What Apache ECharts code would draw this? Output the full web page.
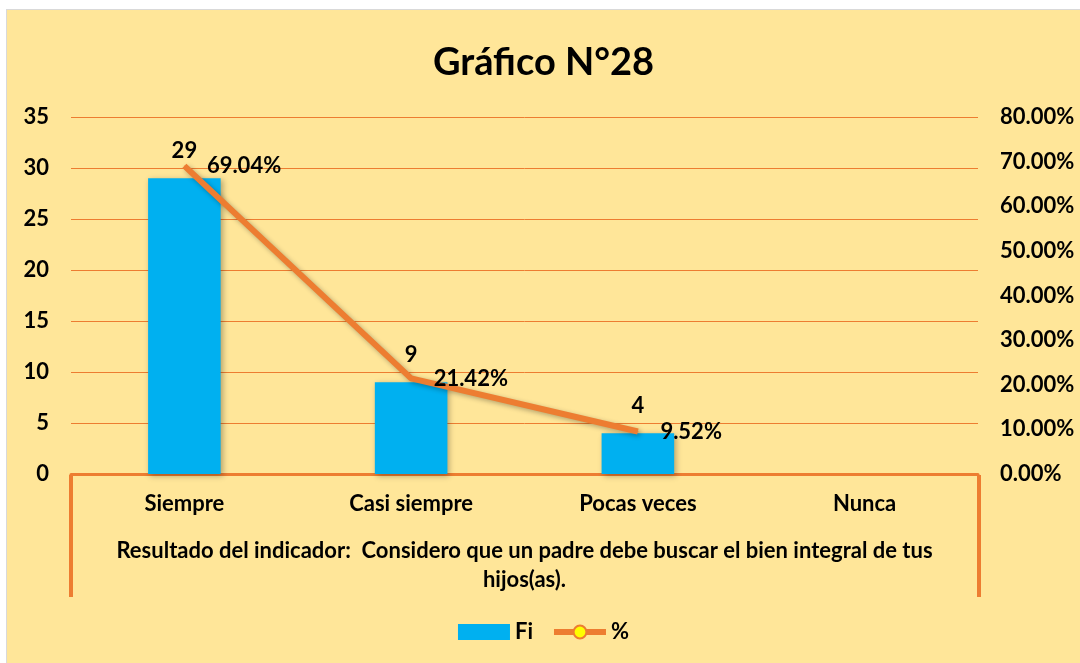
<!DOCTYPE html>
<html>
<head>
<meta charset="utf-8">
<script src="https://cdn.jsdelivr.net/npm/echarts@6/dist/echarts.min.js"></script>
<style>
  html, body { margin: 0; padding: 0; background: #ffffff; }
  #wrap { width: 1080px; height: 663px; position: relative; background: #ffffff; }
  #main { position: absolute; left: 6px; top: 9px; width: 1074px; height: 654px;
          border-left: 1px solid #d9d9d9; border-top: 1px solid #d9d9d9; box-sizing: border-box; }
</style>
</head>
<body>
<div id="wrap"><div id="main"></div></div>
<script>
// datos del gráfico
var categorias = ['Siempre', 'Casi siempre', 'Pocas veces', 'Nunca'];
var fi = [29, 9, 4, null];
var porcentaje = [0.6904, 0.2142, 0.0952, null];
var ticksFi = [0, 5, 10, 15, 20, 25, 30, 35];

var fuente = 'Lato, "Open Sans", sans-serif';
var naranja = '#ED7D31';
var tam = 22;

var myChart = echarts.init(document.getElementById('main'));

var option = {
    backgroundColor: '#FFE699',
    // título
    title: {
        text: 'Gráfico N°28',
        left: 'center',
        top: 29,
        textStyle: { fontFamily: fuente, fontSize: 38, fontWeight: 'bold', color: '#000' }
    },
    legend: {
        bottom: 15,
        left: 'center',
        itemWidth: 52,
        itemHeight: 16,
        itemGap: 18,
        textStyle: { fontFamily: fuente, fontSize: tam, fontWeight: 'bold', color: '#000' },
        data: [
            { name: 'Fi', icon: 'rect' },
            {
                name: '%',
                itemStyle: { color: '#FFFF00', borderColor: naranja, borderWidth: 2 },
                lineStyle: { color: naranja, width: 6 }
            }
        ]
    },
    grid: { left: 64, right: 102, top: 107, bottom: 189 },
    xAxis: {
        type: 'category',
        data: categorias,
        axisLine: { lineStyle: { color: naranja, width: 3 } },
        axisTick: { show: false },
        axisLabel: { fontFamily: fuente, fontSize: tam, fontWeight: 'bold', color: '#000', margin: 19 },
        name: 'Resultado del indicador:  Considero que un padre debe buscar el bien integral de tus\nhijos(as).',
        nameLocation: 'middle',
        nameGap: 62,
        nameTextStyle: { fontFamily: fuente, fontSize: tam, fontWeight: 'bold', color: '#000', lineHeight: 29 }
    },
    yAxis: [{
        type: 'value',
        min: ticksFi[0],
        max: ticksFi[ticksFi.length - 1],
        interval: 5,
        axisLine: { show: false },
        axisTick: { show: false },
        splitLine: { lineStyle: { color: naranja, width: 1 } },
        axisLabel: { fontFamily: fuente, fontSize: tam, fontWeight: 'bold', color: '#000', margin: 22 }
    }, {
        type: 'value',
        min: 0,
        max: 0.8,
        interval: 0.1,
        axisLine: { show: false },
        axisTick: { show: false },
        splitLine: { show: false },
        axisLabel: {
            fontFamily: fuente, fontSize: tam, fontWeight: 'bold', color: '#000', margin: 22,
            formatter: function (v) { return (v * 100).toFixed(2) + '%'; }
        }
    }],
    series: [{
        name: 'Fi',
        type: 'bar',
        data: fi,
        barWidth: '32%',
        itemStyle: { color: '#00B0F0', shadowColor: 'rgba(0,0,0,0.3)', shadowBlur: 6, shadowOffsetX: 2, shadowOffsetY: 2 },
        label: {
            show: true, position: 'top', distance: 16,
            fontFamily: fuente, fontSize: tam, fontWeight: 'bold', color: '#000'
        }
    }, {
        name: '%',
        type: 'line',
        yAxisIndex: 1,
        data: porcentaje,
        symbol: 'circle',
        symbolSize: 1,
        showSymbol: true,
        itemStyle: { color: naranja, borderWidth: 0 },
        lineStyle: { color: naranja, width: 6, shadowColor: 'rgba(0,0,0,0.3)', shadowBlur: 5, shadowOffsetX: 2, shadowOffsetY: 2 },
        label: {
            show: true, position: 'right', distance: 22,
            fontFamily: fuente, fontSize: tam, fontWeight: 'bold', color: '#000',
            formatter: function (p) { return (p.value * 100).toFixed(2) + '%'; }
        }
    }],
    // marco naranja bajo el eje x
    graphic: [{
        type: 'polyline',
        shape: { points: [[64, 465], [64, 587]] },
        style: { stroke: naranja, lineWidth: 4, fill: null }
    }, {
        type: 'polyline',
        shape: { points: [[972, 465], [972, 587]] },
        style: { stroke: naranja, lineWidth: 4, fill: null }
    }]
};

myChart.setOption(option);
</script>
</body>
</html>
